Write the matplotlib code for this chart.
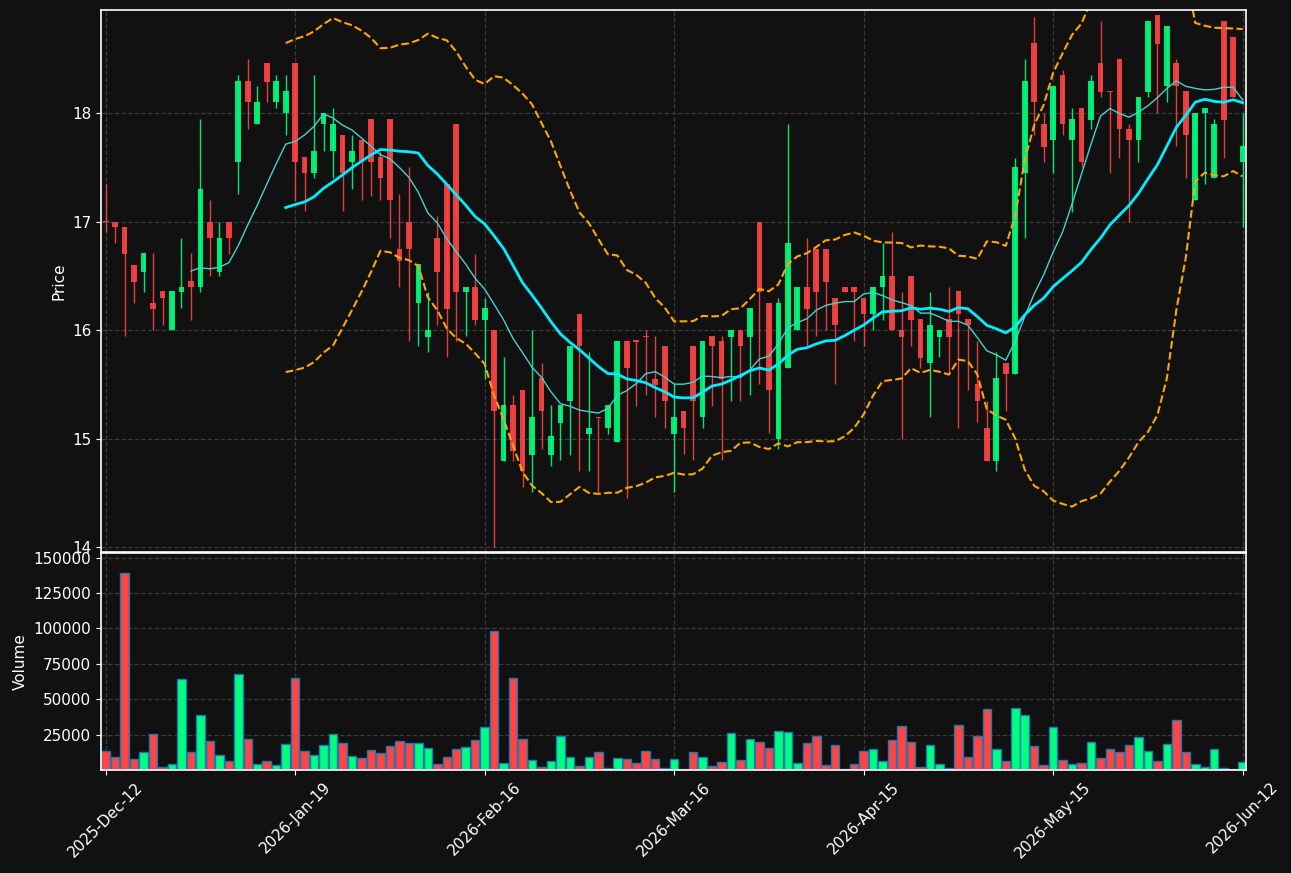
import numpy as np
import pandas as pd
import matplotlib
matplotlib.use("Agg")
import matplotlib.pyplot as plt

# ---- data ----
opens = [17.01, 17.00, 16.95, 16.60, 16.54, 16.25, 16.36, 16.00, 16.35, 16.45,
         16.40, 17.00, 16.54, 17.00, 17.55, 18.30, 17.90, 18.46, 18.10, 18.00,
         18.46, 17.60, 17.45, 17.90, 17.65, 17.80, 17.55, 17.75, 17.95, 17.60,
         17.95, 16.75, 17.00, 16.25, 15.94, 16.85, 17.35, 17.90, 16.35, 16.40,
         16.09, 16.00, 14.79, 15.31, 15.45, 14.85, 15.56, 14.85, 15.14, 15.35,
         16.15, 15.04, 15.20, 15.10, 14.97, 15.90, 15.905, 15.95, 15.55, 15.85,
         15.04, 15.25, 15.85, 15.20, 15.95, 15.90, 15.94, 16.00, 15.94, 17.00,
         16.25, 15.00, 15.65, 16.00, 16.40, 16.75, 16.75, 16.30, 16.40, 16.40,
         16.30, 16.15, 16.40, 16.50, 16.00, 16.50, 16.10, 15.70, 15.94, 16.10,
         16.36, 16.10, 15.50, 15.10, 14.79, 15.70, 15.60, 17.45, 18.65, 17.90,
         17.75, 18.35, 17.75, 18.05, 17.94, 18.46, 18.20, 18.50, 17.85, 17.75,
         18.19, 18.90, 18.25, 18.46, 18.20, 17.20, 18.00, 17.40, 18.85, 18.70,
         17.55]
highs = [17.35, 17.00, 16.95, 16.60, 16.71, 16.71, 16.36, 16.36, 16.85, 16.71,
         17.95, 17.20, 17.00, 17.00, 18.35, 18.50, 18.25, 18.46, 18.35, 18.35,
         18.46, 17.60, 18.35, 18.00, 18.05, 17.80, 17.80, 17.75, 17.95, 17.65,
         17.95, 17.25, 17.50, 16.61, 16.35, 17.05, 17.35, 17.90, 16.40, 16.70,
         16.30, 16.00, 15.75, 15.40, 15.45, 16.00, 15.70, 15.31, 15.31, 15.85,
         16.15, 15.80, 15.20, 15.31, 15.90, 15.90, 15.905, 16.00, 15.95, 15.85,
         15.50, 15.25, 15.85, 15.90, 15.95, 15.95, 16.00, 16.00, 16.20, 17.00,
         16.25, 16.30, 17.90, 16.40, 16.85, 16.75, 16.75, 16.30, 16.40, 16.40,
         16.30, 16.40, 16.80, 16.90, 16.35, 16.50, 16.10, 16.35, 16.00, 16.40,
         16.36, 16.10, 15.90, 15.35, 15.80, 15.70, 17.59, 18.50, 18.89, 18.00,
         18.25, 18.40, 18.05, 18.05, 18.35, 18.85, 18.20, 18.50, 17.90, 18.15,
         18.85, 18.90, 18.80, 18.50, 18.20, 18.00, 18.05, 17.95, 18.85, 18.70,
         18.00]
lows = [16.90, 16.80, 15.95, 16.25, 16.35, 16.00, 16.05, 16.00, 16.20, 16.09,
        16.35, 16.50, 16.50, 16.70, 17.25, 17.85, 17.90, 18.10, 18.05, 17.80,
        17.19, 17.10, 17.40, 17.65, 17.40, 17.10, 17.30, 17.20, 17.24, 17.20,
        16.85, 16.40, 15.90, 15.85, 15.80, 16.05, 15.75, 15.90, 15.95, 16.05,
        15.55, 14.00, 14.79, 14.79, 14.55, 14.51, 14.90, 14.75, 14.80, 14.85,
        14.70, 14.70, 14.51, 15.04, 14.97, 14.45, 15.30, 15.40, 15.20, 15.10,
        14.51, 14.86, 14.80, 15.10, 15.30, 14.80, 15.35, 15.35, 15.40, 15.50,
        15.05, 14.90, 15.65, 16.00, 15.85, 15.95, 16.00, 15.50, 16.35, 15.90,
        15.85, 16.00, 16.09, 16.00, 15.00, 15.85, 15.65, 15.20, 15.75, 15.60,
        15.10, 15.45, 15.15, 14.79, 14.70, 15.25, 15.60, 16.85, 17.80, 17.55,
        17.45, 17.80, 17.09, 17.50, 17.85, 18.15, 17.45, 17.59, 17.00, 17.55,
        18.15, 18.00, 18.10, 17.70, 17.40, 17.20, 17.35, 17.40, 17.59, 18.15,
        16.95]
closes = [17.00, 16.95, 16.70, 16.44, 16.71, 16.19, 16.30, 16.36, 16.40, 16.40,
          17.30, 16.85, 16.85, 16.85, 18.30, 18.10, 18.10, 18.29, 18.30, 18.20,
          17.55, 17.45, 17.65, 18.00, 17.90, 17.45, 17.65, 17.55, 17.55, 17.40,
          17.20, 16.64, 16.75, 16.61, 16.00, 16.54, 16.19, 16.35, 16.40, 16.09,
          16.20, 15.25, 15.31, 14.89, 14.70, 15.20, 15.25, 15.02, 15.31, 15.85,
          15.85, 15.10, 15.19, 15.31, 15.90, 15.65, 15.89, 15.94, 15.49, 15.35,
          15.20, 15.10, 15.35, 15.90, 15.85, 15.55, 16.00, 15.85, 16.20, 16.35,
          15.45, 16.25, 16.80, 16.40, 16.19, 16.35, 16.44, 16.05, 16.35, 16.35,
          16.15, 16.40, 16.50, 16.00, 15.94, 16.09, 15.74, 16.05, 16.00, 15.94,
          16.15, 16.05, 15.35, 14.79, 15.56, 15.60, 17.50, 18.30, 18.10, 17.69,
          18.25, 17.90, 17.95, 17.55, 18.30, 18.19, 18.19, 17.85, 17.75, 18.15,
          18.85, 18.64, 18.80, 18.25, 17.80, 18.00, 18.05, 17.90, 17.94, 18.15,
          17.70]
volumes = [13400, 9200, 139400, 7800, 12700, 25500, 1900, 4200, 64400, 12700,
           38900, 20500, 10600, 6400, 67700, 21900, 4000, 6400, 3300, 18400,
           64800, 13400, 10600, 17700, 25500, 19100, 9900, 8500, 14100, 12000,
           17000, 20500, 19100, 19100, 15600, 4200, 9200, 14900, 16300, 21200,
           30400, 98300, 5000, 64800, 21900, 7100, 1900, 6400, 24100, 9200,
           2600, 9200, 12700, 1400, 8500, 7800, 5000, 13400, 7800, 1400,
           7800, 700, 12700, 9200, 2600, 5700, 26200, 7100, 21900, 19800,
           15600, 27600, 26900, 5000, 19100, 24100, 3500, 17700, 700, 4200,
           13400, 14900, 6400, 21200, 31100, 19800, 2100, 17700, 4200, 1400,
           31800, 9200, 24100, 43200, 14900, 6400, 43900, 38900, 17000, 3500,
           30400, 7100, 4200, 5000, 19800, 8500, 14900, 12700, 17700, 23300,
           13400, 6400, 18400, 35400, 12700, 4200, 2100, 14900, 1400, 500,
           5700]

tick_pos = [0, 20, 40, 60, 80, 100, 120]
tick_labels = ['2025-Dec-12', '2026-Jan-19', '2026-Feb-16', '2026-Mar-16',
               '2026-Apr-15', '2026-May-15', '2026-Jun-12']

# ---- indicators ----
df = pd.DataFrame({'open': opens, 'high': highs, 'low': lows,
                   'close': closes, 'volume': volumes})
x = np.arange(len(df))
ma10 = df['close'].rolling(10).mean()
ma20 = df['close'].rolling(20).mean()
std20 = df['close'].rolling(20).std(ddof=0)
bb_up = ma20 + 2 * std20
bb_dn = ma20 - 2 * std20

up_col = '#00ff7f'
dn_col = '#ff4444'
bg = '#111111'
is_up = df['close'] >= df['open']
cols = np.where(is_up, up_col, dn_col)

fig = plt.figure(figsize=(12.91, 8.73), dpi=100, facecolor=bg)
ax1 = fig.add_axes([0.0782, 0.3677, 0.8869, 0.6208])
ax2 = fig.add_axes([0.0782, 0.1180, 0.8869, 0.2486], sharex=ax1)

for ax in (ax1, ax2):
    ax.set_facecolor(bg)
    for s in ax.spines.values():
        s.set_color('white')
        s.set_linewidth(1.2)
    ax.tick_params(colors='white', labelsize=11)
    ax.grid(True, linestyle='--', color='#3a3a3a', linewidth=0.9)
    ax.set_axisbelow(True)

# candles
ax1.vlines(x, df['low'], df['high'], colors=cols, linewidth=1, alpha=0.9)
body_bot = np.minimum(df['open'], df['close'])
body_h = np.maximum(np.abs(df['close'] - df['open']), 0.01)
ax1.bar(x, body_h, bottom=body_bot, width=0.6, color=cols, alpha=0.9)

# moving averages and bands
ax1.plot(x, ma10, color='#48d1cc', linewidth=1)
ax1.plot(x, ma20, color='#00eeff', linewidth=2)
ax1.plot(x, bb_up, color='orange', linestyle='--', linewidth=1.5)
ax1.plot(x, bb_dn, color='orange', linestyle='--', linewidth=1.5)

ax1.set_ylim(13.955, 18.95)
ax1.set_yticks([14, 15, 16, 17, 18])
ax1.set_ylabel('Price', color='white', fontsize=11)
plt.setp(ax1.get_xticklabels(), visible=False)

# volume
ax2.bar(x, df['volume'], width=0.9, color=cols, edgecolor='#1f77b4', linewidth=1)
ax2.set_ylim(0, df['volume'].max() * 1.1)
ax2.set_yticks([25000, 50000, 75000, 100000, 125000, 150000])
ax2.set_ylabel('Volume', color='white', fontsize=11)

ax2.set_xlim(-0.5, 120.35)
ax2.set_xticks(tick_pos)
ax2.set_xticklabels(tick_labels, rotation=45)

fig.savefig('out.png', dpi=100, facecolor=bg)
